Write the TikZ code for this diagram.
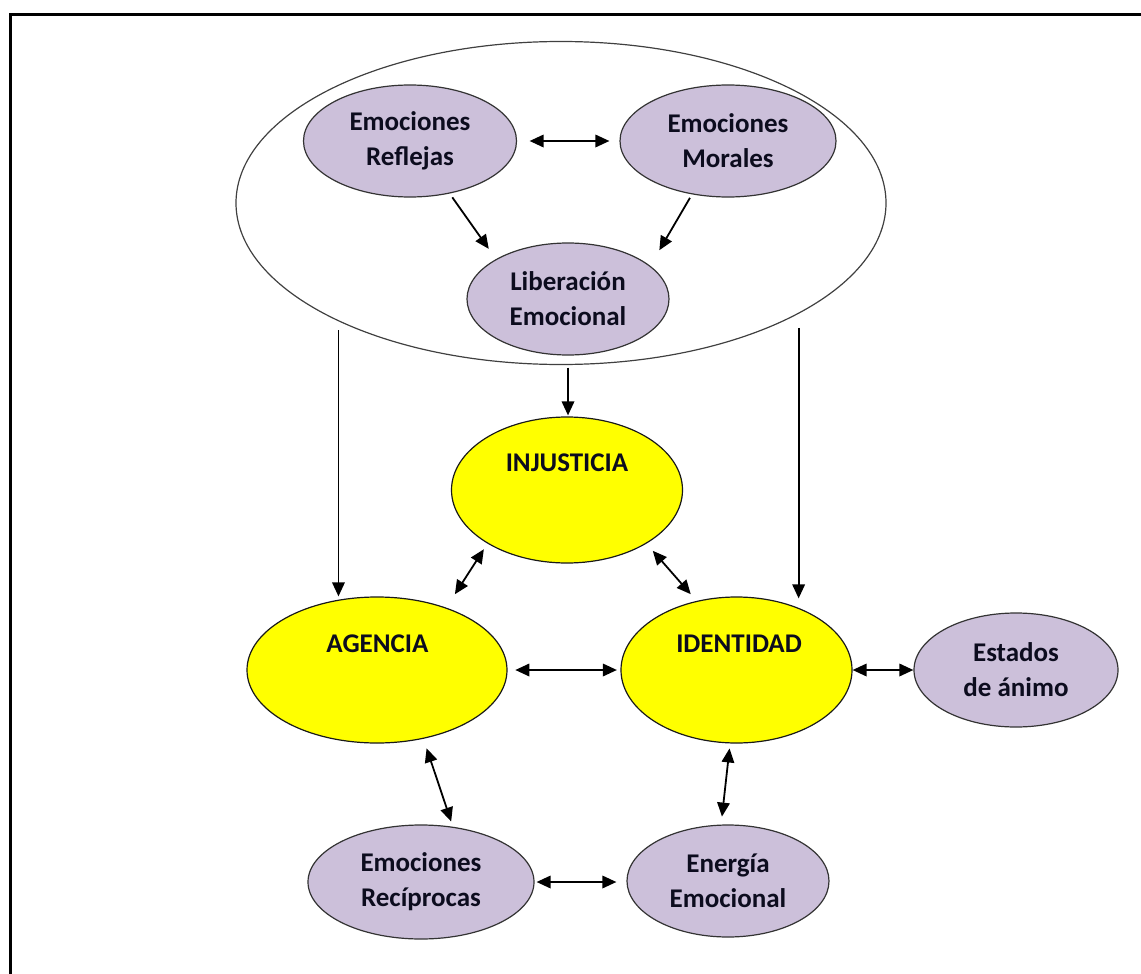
\documentclass[tikz,border=0pt]{standalone}
\usepackage{fontspec}
\setmainfont{Carlito}
\usetikzlibrary{shapes.geometric,arrows.meta}
\definecolor{lav}{HTML}{CCC0DA}
\definecolor{yel}{HTML}{FFFF00}
\definecolor{txt}{HTML}{0C0C1E}
\tikzset{
  em/.style={ellipse, draw=black!80, line width=1.2pt, fill=lav, inner sep=0pt,
    font=\fontsize{27}{35}\selectfont\bfseries, text=txt, align=center},
  core/.style={ellipse, draw=black!90, line width=1.2pt, fill=yel, inner sep=0pt},
  corelbl/.style={anchor=base, inner sep=0pt, font=\fontsize{27}{35}\selectfont\bfseries, text=txt},
  grp/.style={ellipse, draw=black!75, line width=1.2pt, inner sep=0pt},
  tipx/.tip={Triangle[length=14pt,width=12.5pt]},
  arr/.style={-tipx, line width=1.8pt},
  darr/.style={tipx-tipx, line width=1.8pt}
}
\begin{document}
\begin{tikzpicture}[x=1pt,y=-1pt]
\useasboundingbox (0,0) rectangle (1141,974);
% frame
\draw[line width=3.2pt] (10.5,990) -- (10.5,14.3) -- (1141,14.3);

% group ellipse
\node[grp, minimum width=650pt, minimum height=323pt] (group) at (561,203) {};

% purple nodes
\node[em, minimum width=213pt, minimum height=112pt] (refl) at (410,141) {Emociones\\Reflejas};
\node[em, minimum width=216pt, minimum height=112pt] (mor) at (728,141) {Emociones\\Morales};
\node[em, minimum width=202pt, minimum height=112pt] (lib) at (568,299) {Liberación\\Emocional};
\node[em, minimum width=204pt, minimum height=114pt] (est) at (1016,670) {Estados\\de ánimo};
\node[em, minimum width=226pt, minimum height=114pt] (rec) at (421,882) {Emociones\\Recíprocas};
\node[em, minimum width=202pt, minimum height=112pt] (ene) at (728,881) {Energía\\Emocional};

% yellow nodes
\node[core, minimum width=231pt, minimum height=146pt] (inj) at (567,490) {};
\node[core, minimum width=260pt, minimum height=146pt] (ag) at (377,670) {};
\node[core, minimum width=231pt, minimum height=146pt] (id) at (736.5,670) {};
\node[corelbl] (injt) at (567,471) {INJUSTICIA};
\node[corelbl] (agt) at (377.5,652) {AGENCIA};
\node[corelbl] (idt) at (739,652) {IDENTIDAD};

% connectors
\draw[arr, shorten <=4.6pt, shorten >=12.5pt] (refl.-53.8) -- (lib.151.5);
\draw[arr, shorten <=4pt, shorten >=18pt] (mor.-124.4) -- (lib.22.4);
\draw[darr, shorten <=12.5pt, shorten >=10pt] (refl.east) -- (mor.west);
\draw[arr, shorten <=12pt, shorten >=1pt] (lib.south) -- (lib.south |- inj.north);
\draw[arr, shorten <=9pt] (group.-152.9) -- (group.-152.9 |- ag.north);
\draw[arr, shorten <=14pt, shorten >=-2pt] (group.-25.9) -- (group.-25.9 |- id.north);
\draw[darr, shorten <=6.7pt, shorten >=15.9pt] (inj.-146.9) -- (ag.42.8);
\draw[darr, shorten <=9.5pt, shorten >=8.9pt] (inj.-34.8) -- (id.120.3);
\draw[darr, shorten <=7.7pt, shorten >=3.5pt] (ag.east) -- (ag.east -| id.west);
\draw[darr] (id.east) -- (id.east -| est.west);
\draw[darr, shorten <=10pt, shorten >=5.5pt] (ag.-56.2) -- (rec.60.5);
\draw[darr, shorten <=5pt, shorten >=8pt] (id.-95.2) -- (ene.97.7);
\draw[darr, shorten <=2pt, shorten >=10pt] (rec.east) -- (rec.east -| ene.west);
\end{tikzpicture}
\end{document}
